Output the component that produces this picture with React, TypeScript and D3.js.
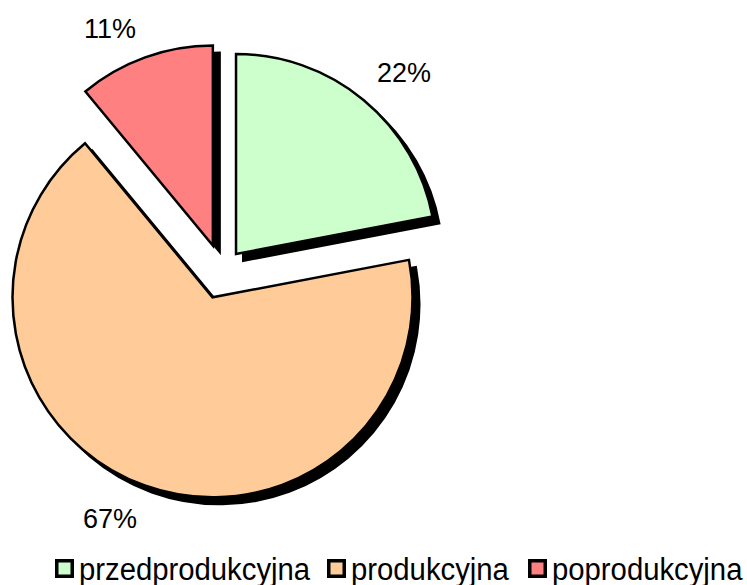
import React from "react";
import * as d3 from "d3";

const categories = ["przedprodukcyjna", "produkcyjna", "poprodukcyjna"];
const values = [22, 67, 11];
const labels = ["22%", "67%", "11%"];
const colors = ["#ccffcc", "#ffcc99", "#ff8080"];
const explode = [22, 28, 27];

export default function App() {
  const W = 747, H = 585;
  const cx = 222, cy = 271, r = 200;
  const pie = d3.pie<number>().value((d) => d).sort(null)(values);
  const arc = d3.arc<d3.PieArcDatum<number>>().innerRadius(0).outerRadius(r);
  const labelPos = [
    [404, 82],
    [110, 528],
    [110, 38],
  ];
  const legendX = [55, 327, 528];
  const sx = 0.945;
  return (
    <svg width={W} height={H} style={{ position: "absolute", left: 0, top: 0 }}
      fontFamily="'Liberation Sans', Arial, sans-serif">
      <rect width={W} height={H} fill="#fff" />
      {pie.map((p, i) => {
        const mid = (p.startAngle + p.endAngle) / 2;
        const dx = Math.sin(mid) * explode[i];
        const dy = -Math.cos(mid) * explode[i];
        return (
          <g key={"s" + i} transform={`translate(${cx + dx + 7},${cy + dy + 7})`}>
            <path d={arc(p) || ""} fill="#000" stroke="#000" strokeWidth={2} />
          </g>
        );
      })}
      {pie.map((p, i) => {
        const mid = (p.startAngle + p.endAngle) / 2;
        const dx = Math.sin(mid) * explode[i];
        const dy = -Math.cos(mid) * explode[i];
        return (
          <g key={"p" + i} transform={`translate(${cx + dx},${cy + dy})`}>
            <path d={arc(p) || ""} fill={colors[i]} stroke="#000" strokeWidth={2.5} strokeLinejoin="miter" />
          </g>
        );
      })}
      {labels.map((l, i) => (
        <text key={"l" + i} x={labelPos[i][0]} y={labelPos[i][1]} textAnchor="middle" fontSize={27} fill="#000">
          {l}
        </text>
      ))}
      {categories.map((c, i) => (
        <g key={"g" + i}>
          <rect x={legendX[i] + 1.75} y={560.75} width={15.5} height={15.5} fill={colors[i]} stroke="#000" strokeWidth={3.5} />
          <text transform={`translate(${legendX[i] + 24},580) scale(${sx},1)`} fontSize={31} fill="#000">{c}</text>
        </g>
      ))}
    </svg>
  );
}
